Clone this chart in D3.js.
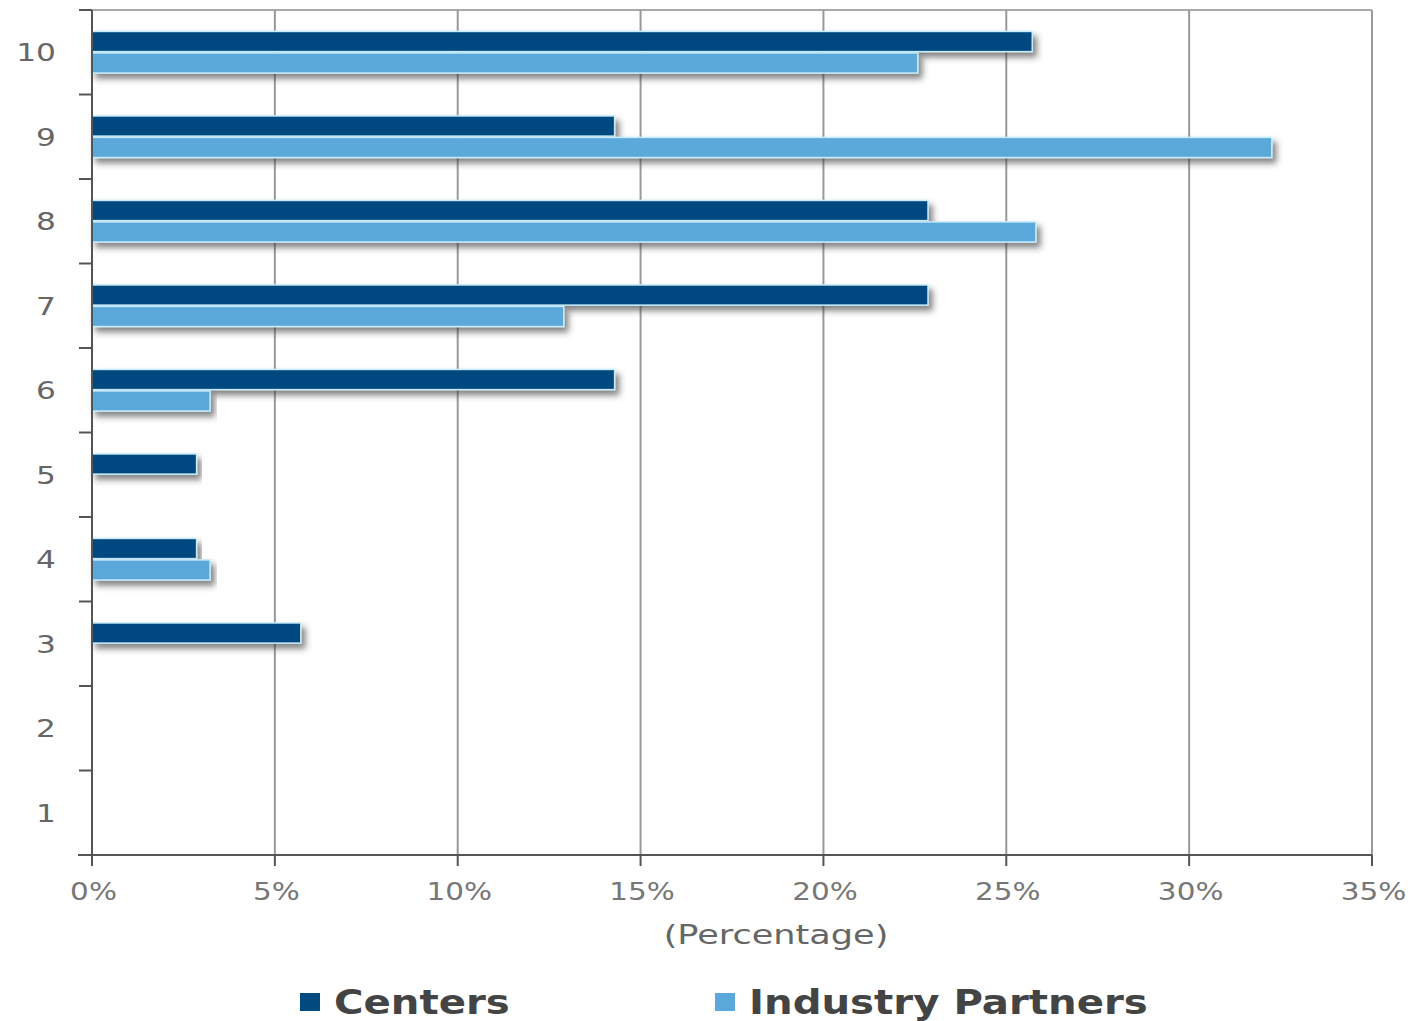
<!DOCTYPE html>
<html>
<head>
<meta charset="utf-8">
<script src="https://cdn.jsdelivr.net/npm/d3@7"></script>
<style>
  body { margin: 0; background: #fff; }
  svg { display: block; font-family: "DejaVu Sans", Verdana, sans-serif; }
</style>
</head>
<body>
<script>
// categories, top to bottom
var categories = ["10", "9", "8", "7", "6", "5", "4", "3", "2", "1"];
var centers = [25.71, 14.29, 22.86, 22.86, 14.29, 2.86, 2.86, 5.71, 0, 0];
var partners = [22.58, 32.26, 25.81, 12.90, 3.23, 0, 3.23, 0, 0, 0];
var seriesNames = ["Centers", "Industry Partners"];
var seriesColors = ["#004a80", "#5aa9da"];
var xTicks = [0, 5, 10, 15, 20, 25, 30, 35];

var W = 1416, H = 1021;
var plotLeft = 92, plotRight = 1372, plotTop = 10, plotBottom = 855;

var svg = d3.select("body").append("svg")
    .attr("width", W)
    .attr("height", H);

var defs = svg.append("defs");
var f = defs.append("filter").attr("id", "shadow")
    .attr("x", "-5%").attr("y", "-50%").attr("width", "110%").attr("height", "250%");
f.append("feDropShadow")
    .attr("dx", 4).attr("dy", 5).attr("stdDeviation", 3)
    .attr("flood-color", "#333").attr("flood-opacity", 0.6);

// the source picture is stretched sideways, so texts get a horizontal scale
function wideText(sel, px, py, sx) {
    return sel.append("text")
        .attr("transform", "translate(" + px + "," + py + ") scale(" + sx + ",1)")
        .attr("dy", "0.35em");
}

var x = d3.scaleLinear().domain([0, 35]).range([plotLeft, plotRight]);
var y = d3.scaleBand().domain(categories).range([plotTop, plotBottom]);
var inner = d3.scaleBand().domain([0, 1]).range([0, y.bandwidth()]).paddingOuter(1.0).paddingInner(0.06);

// frame top
svg.append("line").attr("x1", plotLeft).attr("x2", plotRight).attr("y1", plotTop).attr("y2", plotTop)
    .attr("stroke", "#aaa").attr("stroke-width", 2);

// vertical grid
svg.append("g").selectAll("line")
    .data(xTicks.slice(1))
    .enter().append("line")
    .attr("x1", function(d) { return x(d); })
    .attr("x2", function(d) { return x(d); })
    .attr("y1", plotTop).attr("y2", plotBottom)
    .attr("stroke", "#999").attr("stroke-width", 2);

// bars
var rows = categories.map(function(c, i) { return {cat: c, vals: [centers[i], partners[i]]}; });
var g = svg.append("g");
rows.forEach(function(r) {
    r.vals.forEach(function(v, s) {
        if (v <= 0) return;
        g.append("rect")
            .attr("x", x(0))
            .attr("y", y(r.cat) + inner(s))
            .attr("width", x(v) - x(0))
            .attr("height", inner.bandwidth())
            .attr("fill", seriesColors[s])
            .attr("stroke", "#c8ecfb")
            .attr("stroke-width", 1.5)
            .attr("filter", "url(#shadow)");
    });
});

// y axis
var yAxis = svg.append("g").attr("transform", "translate(" + plotLeft + ",0)");
yAxis.append("line").attr("x1", 0).attr("x2", 0).attr("y1", plotTop).attr("y2", plotBottom)
    .attr("stroke", "#555").attr("stroke-width", 2);
yAxis.selectAll(".tk")
    .data(categories.concat(["end"]))
    .enter().append("line")
    .attr("class", "tk")
    .attr("x1", -13).attr("x2", 0)
    .attr("y1", function(d, i) { return plotTop + i * y.step(); })
    .attr("y2", function(d, i) { return plotTop + i * y.step(); })
    .attr("stroke", "#555").attr("stroke-width", 2);
categories.forEach(function(c) {
    wideText(yAxis, -36, y(c) + y.bandwidth() / 2, 1.25)
        .attr("text-anchor", "end")
        .attr("fill", "#666")
        .style("font-size", "25px")
        .text(c);
});

// x axis
var xAxis = svg.append("g").attr("transform", "translate(0," + plotBottom + ")");
xAxis.append("line").attr("x1", plotLeft - 14).attr("x2", plotRight).attr("y1", 0).attr("y2", 0)
    .attr("stroke", "#555").attr("stroke-width", 2);
xAxis.selectAll(".tk")
    .data(xTicks)
    .enter().append("line")
    .attr("class", "tk")
    .attr("x1", function(d) { return x(d); })
    .attr("x2", function(d) { return x(d); })
    .attr("y1", 0).attr("y2", 11)
    .attr("stroke", "#555").attr("stroke-width", 2);
xTicks.forEach(function(t) {
    wideText(xAxis, x(t) + 1.5, 36, 1.18)
        .attr("text-anchor", "middle")
        .attr("fill", "#777")
        .style("font-size", "25px")
        .text(t + "%");
});

wideText(svg, 776, 935, 1.3)
    .attr("text-anchor", "middle")
    .attr("fill", "#666")
    .style("font-size", "27px")
    .text("(Percentage)");

// legend
var legendX = [300, 715];
var lg = svg.append("g");
seriesNames.forEach(function(name, i) {
    lg.append("rect")
        .attr("x", legendX[i]).attr("y", 993)
        .attr("width", 20).attr("height", 18)
        .attr("fill", seriesColors[i]);
    wideText(lg, legendX[i] + 34, 1002, 1.22)
        .attr("fill", "#444")
        .style("font-size", "33px")
        .style("font-weight", "bold")
        .text(name);
});
</script>
</body>
</html>
